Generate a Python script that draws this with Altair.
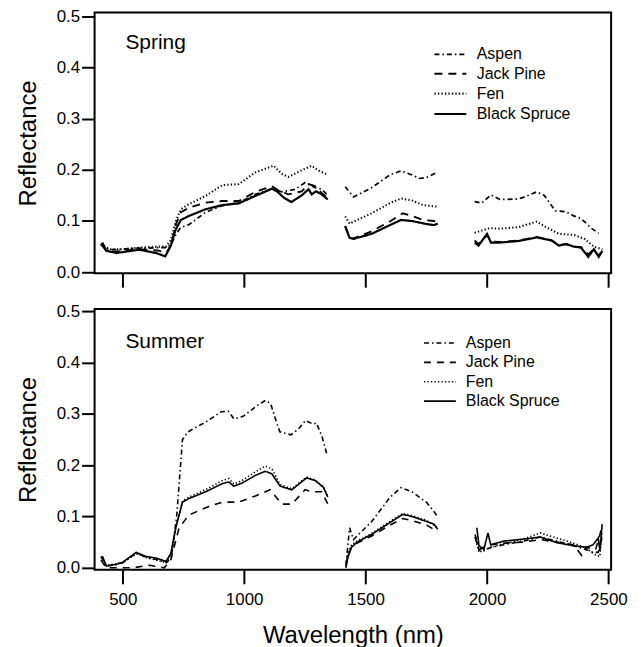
import altair as alt
import pandas as pd

SPECIES = ["Aspen", "Jack Pine", "Fen", "Black Spruce"]
X_TICKS = [500, 1000, 1500, 2000, 2500]
Y_TICKS = [0.0, 0.1, 0.2, 0.3, 0.4, 0.5]

# ---------------- Spring ----------------
SPRING_ASPEN_WL = [
    [410, 430, 460, 500, 550, 600, 650, 680, 700, 720, 739, 773, 841, 910, 978, 1046, 1114, 1155, 1210, 1251, 1292, 1320, 1344],
    [1416, 1450, 1525, 1600, 1646, 1691, 1722, 1752, 1790],
    [1949, 1979, 2016, 2054, 2130, 2160, 2205, 2236, 2281, 2326, 2357, 2387, 2432, 2460],
]
SPRING_ASPEN_R = [
    [0.055, 0.046, 0.044, 0.045, 0.047, 0.047, 0.048, 0.048, 0.055, 0.075, 0.087, 0.093, 0.117, 0.13, 0.136, 0.152, 0.163, 0.157, 0.162, 0.175, 0.165, 0.162, 0.15],
    [0.167, 0.147, 0.165, 0.19, 0.198, 0.19, 0.183, 0.185, 0.194],
    [0.138, 0.135, 0.151, 0.142, 0.143, 0.148, 0.157, 0.15, 0.12, 0.118, 0.11, 0.105, 0.085, 0.076],
]
SPRING_JACKPINE_WL = [
    [410, 430, 460, 500, 550, 600, 650, 680, 700, 720, 739, 773, 841, 910, 978, 1046, 1114, 1140, 1182, 1237, 1265, 1292, 1319, 1344],
    [1416, 1434, 1450, 1525, 1600, 1653, 1691, 1737, 1782, 1797],
    [1949, 1965, 2000, 2016, 2054, 2130, 2205, 2266, 2296, 2326, 2357, 2387, 2417, 2440, 2460, 2475],
]
SPRING_JACKPINE_R = [
    [0.055, 0.043, 0.040, 0.042, 0.045, 0.044, 0.042, 0.038, 0.055, 0.095, 0.117, 0.126, 0.136, 0.139, 0.139, 0.157, 0.168, 0.16, 0.152, 0.158, 0.172, 0.168, 0.155, 0.145],
    [0.09, 0.067, 0.066, 0.08, 0.099, 0.115, 0.11, 0.102, 0.1, 0.098],
    [0.062, 0.055, 0.072, 0.06, 0.059, 0.062, 0.069, 0.062, 0.053, 0.055, 0.05, 0.049, 0.035, 0.045, 0.032, 0.044],
]
SPRING_FEN_WL = [
    [410, 446, 500, 568, 637, 678, 698, 719, 739, 773, 841, 910, 978, 1046, 1121, 1155, 1182, 1237, 1278, 1305, 1344],
    [1416, 1434, 1525, 1600, 1646, 1691, 1737, 1797],
    [1949, 2010, 2054, 2130, 2205, 2236, 2296, 2357, 2402, 2440, 2475],
]
SPRING_FEN_R = [
    [0.055, 0.045, 0.045, 0.048, 0.05, 0.05, 0.063, 0.1, 0.123, 0.133, 0.149, 0.17, 0.172, 0.195, 0.208, 0.192, 0.186, 0.199, 0.208, 0.199, 0.19],
    [0.109, 0.095, 0.115, 0.135, 0.144, 0.14, 0.131, 0.128],
    [0.077, 0.086, 0.085, 0.088, 0.099, 0.09, 0.075, 0.073, 0.065, 0.05, 0.045],
]
SPRING_SPRUCE_WL = [
    [416, 432, 473, 568, 637, 675, 698, 716, 739, 773, 841, 910, 978, 1046, 1114, 1135, 1162, 1194, 1237, 1265, 1278, 1296, 1319, 1344],
    [1416, 1434, 1450, 1525, 1600, 1646, 1691, 1752, 1782, 1797],
    [1949, 1965, 2000, 2016, 2054, 2130, 2205, 2266, 2296, 2326, 2357, 2387, 2417, 2440, 2460, 2475],
]
SPRING_SPRUCE_R = [
    [0.058, 0.042, 0.0375, 0.044, 0.0375, 0.031, 0.052, 0.081, 0.102, 0.11, 0.123, 0.131, 0.1345, 0.149, 0.163, 0.158, 0.146, 0.137, 0.150, 0.162, 0.152, 0.158, 0.152, 0.142],
    [0.09, 0.067, 0.065, 0.075, 0.092, 0.102, 0.1, 0.094, 0.092, 0.095],
    [0.058, 0.052, 0.075, 0.058, 0.058, 0.061, 0.068, 0.062, 0.052, 0.055, 0.05, 0.048, 0.03, 0.045, 0.03, 0.042],
]

# ---------------- Summer ----------------
SUMMER_ASPEN_WL = [
    [410, 432, 473, 500, 555, 600, 640, 680, 700, 722, 746, 769, 845, 905, 935, 958, 996, 1056, 1087, 1109, 1132, 1147, 1193, 1223, 1253, 1283, 1298, 1321, 1341],
    [1419, 1434, 1450, 1525, 1600, 1646, 1691, 1752, 1797],
    [1951, 1967, 1987, 2017, 2069, 2151, 2219, 2287, 2356, 2410, 2437, 2458, 2474],
]
SUMMER_ASPEN_R = [
    [0.022, 0.003, 0.006, 0.01, 0.028, 0.02, 0.016, 0.01, 0.02, 0.1, 0.25, 0.265, 0.285, 0.304, 0.305, 0.29, 0.295, 0.317, 0.326, 0.32, 0.285, 0.265, 0.259, 0.27, 0.287, 0.28, 0.282, 0.255, 0.22],
    [0.005, 0.078, 0.055, 0.09, 0.137, 0.156, 0.148, 0.127, 0.1],
    [0.065, 0.035, 0.033, 0.04, 0.045, 0.052, 0.06, 0.052, 0.043, 0.035, 0.03, 0.03, 0.06],
]
SUMMER_JACKPINE_WL = [
    [410, 432, 473, 541, 610, 671, 698, 732, 773, 841, 910, 978, 1046, 1107, 1155, 1196, 1251, 1278, 1319, 1344],
    [1419, 1427, 1442, 1465, 1525, 1600, 1653, 1691, 1752, 1797],
    [1951, 1967, 1987, 2017, 2069, 2151, 2219, 2287, 2356, 2390, 2410, 2447, 2474],
]
SUMMER_JACKPINE_R = [
    [0.015, 0.0, 0.0, 0.0, 0.005, 0.0, 0.016, 0.078, 0.103, 0.117, 0.128, 0.128, 0.14, 0.152, 0.124, 0.124, 0.152, 0.148, 0.148, 0.125],
    [0.003, 0.025, 0.04, 0.048, 0.062, 0.083, 0.096, 0.092, 0.083, 0.07],
    [0.06, 0.035, 0.04, 0.045, 0.048, 0.05, 0.055, 0.05, 0.045, 0.024, 0.04, 0.035, 0.08],
]
SUMMER_FEN_WL = [
    [416, 432, 473, 500, 555, 596, 637, 678, 698, 719, 746, 773, 841, 910, 937, 957, 991, 1046, 1087, 1114, 1148, 1196, 1257, 1292, 1326, 1344],
    [1419, 1427, 1442, 1465, 1525, 1600, 1653, 1691, 1752, 1797],
    [1951, 1967, 1987, 2017, 2069, 2151, 2219, 2287, 2356, 2410, 2447, 2465, 2474],
]
SUMMER_FEN_R = [
    [0.02, 0.005, 0.008, 0.01, 0.028, 0.02, 0.015, 0.01, 0.025, 0.08, 0.13, 0.138, 0.152, 0.17, 0.174, 0.163, 0.17, 0.187, 0.198, 0.193, 0.162, 0.154, 0.177, 0.171, 0.158, 0.14],
    [0.01, 0.025, 0.045, 0.052, 0.067, 0.09, 0.106, 0.102, 0.092, 0.078],
    [0.06, 0.03, 0.035, 0.04, 0.047, 0.056, 0.068, 0.058, 0.048, 0.038, 0.025, 0.022, 0.07],
]
SUMMER_SPRUCE_WL = [
    [416, 432, 473, 500, 555, 596, 637, 678, 698, 719, 746, 773, 841, 910, 937, 957, 991, 1046, 1087, 1114, 1148, 1196, 1257, 1292, 1326, 1344],
    [1419, 1427, 1442, 1465, 1525, 1600, 1653, 1691, 1752, 1782, 1797],
    [1958, 1967, 1987, 2004, 2015, 2069, 2151, 2219, 2287, 2356, 2410, 2437, 2458, 2465, 2474],
]
SUMMER_SPRUCE_R = [
    [0.023, 0.0035, 0.0067, 0.011, 0.03, 0.022, 0.019, 0.0125, 0.028, 0.079, 0.128, 0.135, 0.148, 0.164, 0.167, 0.159, 0.165, 0.18, 0.188, 0.183, 0.159, 0.152, 0.175, 0.17, 0.157, 0.138],
    [0.0, 0.02, 0.04, 0.05, 0.065, 0.088, 0.104, 0.1, 0.09, 0.085, 0.075],
    [0.078, 0.043, 0.036, 0.068, 0.045, 0.052, 0.056, 0.06, 0.049, 0.043, 0.04, 0.045, 0.058, 0.033, 0.085],
]

FONT = "Liberation Sans"
LEGEND_SYMBOL = "M-2,0H2"  # a wide horizontal stroke, shorter row height


def build_df(series):
    rows = []
    for name, wls, rs in series:
        for si, (wl, r) in enumerate(zip(wls, rs)):
            for w, v in zip(wl, r):
                rows.append({"species": name, "wl": w, "r": v, "key": f"{name}-{si}"})
    return pd.DataFrame(rows)


spring_df = build_df([
    ("Aspen", SPRING_ASPEN_WL, SPRING_ASPEN_R),
    ("Jack Pine", SPRING_JACKPINE_WL, SPRING_JACKPINE_R),
    ("Fen", SPRING_FEN_WL, SPRING_FEN_R),
    ("Black Spruce", SPRING_SPRUCE_WL, SPRING_SPRUCE_R),
])
summer_df = build_df([
    ("Aspen", SUMMER_ASPEN_WL, SUMMER_ASPEN_R),
    ("Jack Pine", SUMMER_JACKPINE_WL, SUMMER_JACKPINE_R),
    ("Fen", SUMMER_FEN_WL, SUMMER_FEN_R),
    ("Black Spruce", SUMMER_SPRUCE_WL, SUMMER_SPRUCE_R),
])


def panel(df, label, label_y, dashes, widths, ydomain, legend_x, legend_y, bottom):
    x_axis = alt.Axis(
        values=X_TICKS, format="d", labels=bottom, title="Wavelength (nm)" if bottom else None,
        domain=False, grid=False, ticks=True, tickSize=14, tickWidth=2, tickColor="black",
        labelFont=FONT, labelFontSize=17, labelColor="black", labelPadding=8,
        titleFont=FONT, titleFontSize=24, titleFontWeight="normal", titleColor="black", titlePadding=16,
    )
    y_axis = alt.Axis(
        values=Y_TICKS, format=".1f", title="Reflectance",
        domain=False, grid=False, tickSize=13, tickWidth=2, tickColor="black",
        labelFont=FONT, labelFontSize=17, labelColor="black", labelPadding=2,
        titleFont=FONT, titleFontSize=24, titleFontWeight="normal", titleColor="black", titlePadding=16,
    )
    lines = alt.Chart(df).mark_line(color="black", strokeCap="butt").encode(
        x=alt.X("wl:Q", scale=alt.Scale(domain=[384, 2511], nice=False, zero=False), axis=x_axis),
        y=alt.Y("r:Q", scale=alt.Scale(domain=ydomain, nice=False, zero=False), axis=y_axis),
        strokeDash=alt.StrokeDash(
            "species:N",
            scale=alt.Scale(domain=SPECIES, range=dashes),
            legend=alt.Legend(
                title=None, orient="none", legendX=legend_x, legendY=legend_y,
                symbolType=LEGEND_SYMBOL, symbolSize=256, symbolStrokeColor="black",
                symbolFillColor="transparent",
                symbolStrokeWidth=1.7, labelFont=FONT, labelFontSize=16, labelColor="black",
                labelOffset=17, rowPadding=2.5,
            ),
        ),
        strokeWidth=alt.StrokeWidth(
            "species:N", scale=alt.Scale(domain=SPECIES, range=widths), legend=None
        ),
        detail="key:N",
        order="wl:Q",
    )
    txt = alt.Chart(pd.DataFrame({"t": [label]})).mark_text(
        align="left", baseline="alphabetic", font=FONT, fontSize=21, color="black"
    ).encode(text="t:N", x=alt.value(31), y=alt.value(label_y))
    return alt.layer(lines, txt).properties(width=519, height=262)


top = panel(
    spring_df, "Spring", 37,
    [[5, 3, 1.5, 3], [8, 6], [1.3, 2.2], [1, 0]],
    [1.7, 2.2, 1.6, 1.9],
    [-0.002, 0.507], 348, 33, False,
)
bottom = panel(
    summer_df, "Summer", 39,
    [[5, 3, 1.5, 3], [7, 6], [1.3, 2.2], [1, 0]],
    [1.6, 1.6, 1.6, 2.0],
    [-0.004, 0.504], 338, 25, True,
)

chart = (
    alt.vconcat(top, bottom, spacing=12)
    .resolve_scale(strokeDash="independent", strokeWidth="independent", y="independent")
    .resolve_legend(strokeDash="independent")
    .properties(padding={"left": 7, "top": -4, "right": 5, "bottom": 0})
    .configure(background="white")
    .configure_view(stroke="black", strokeWidth=2)
)

chart.save("out.html", embed_options={"renderer": "svg", "actions": False})
